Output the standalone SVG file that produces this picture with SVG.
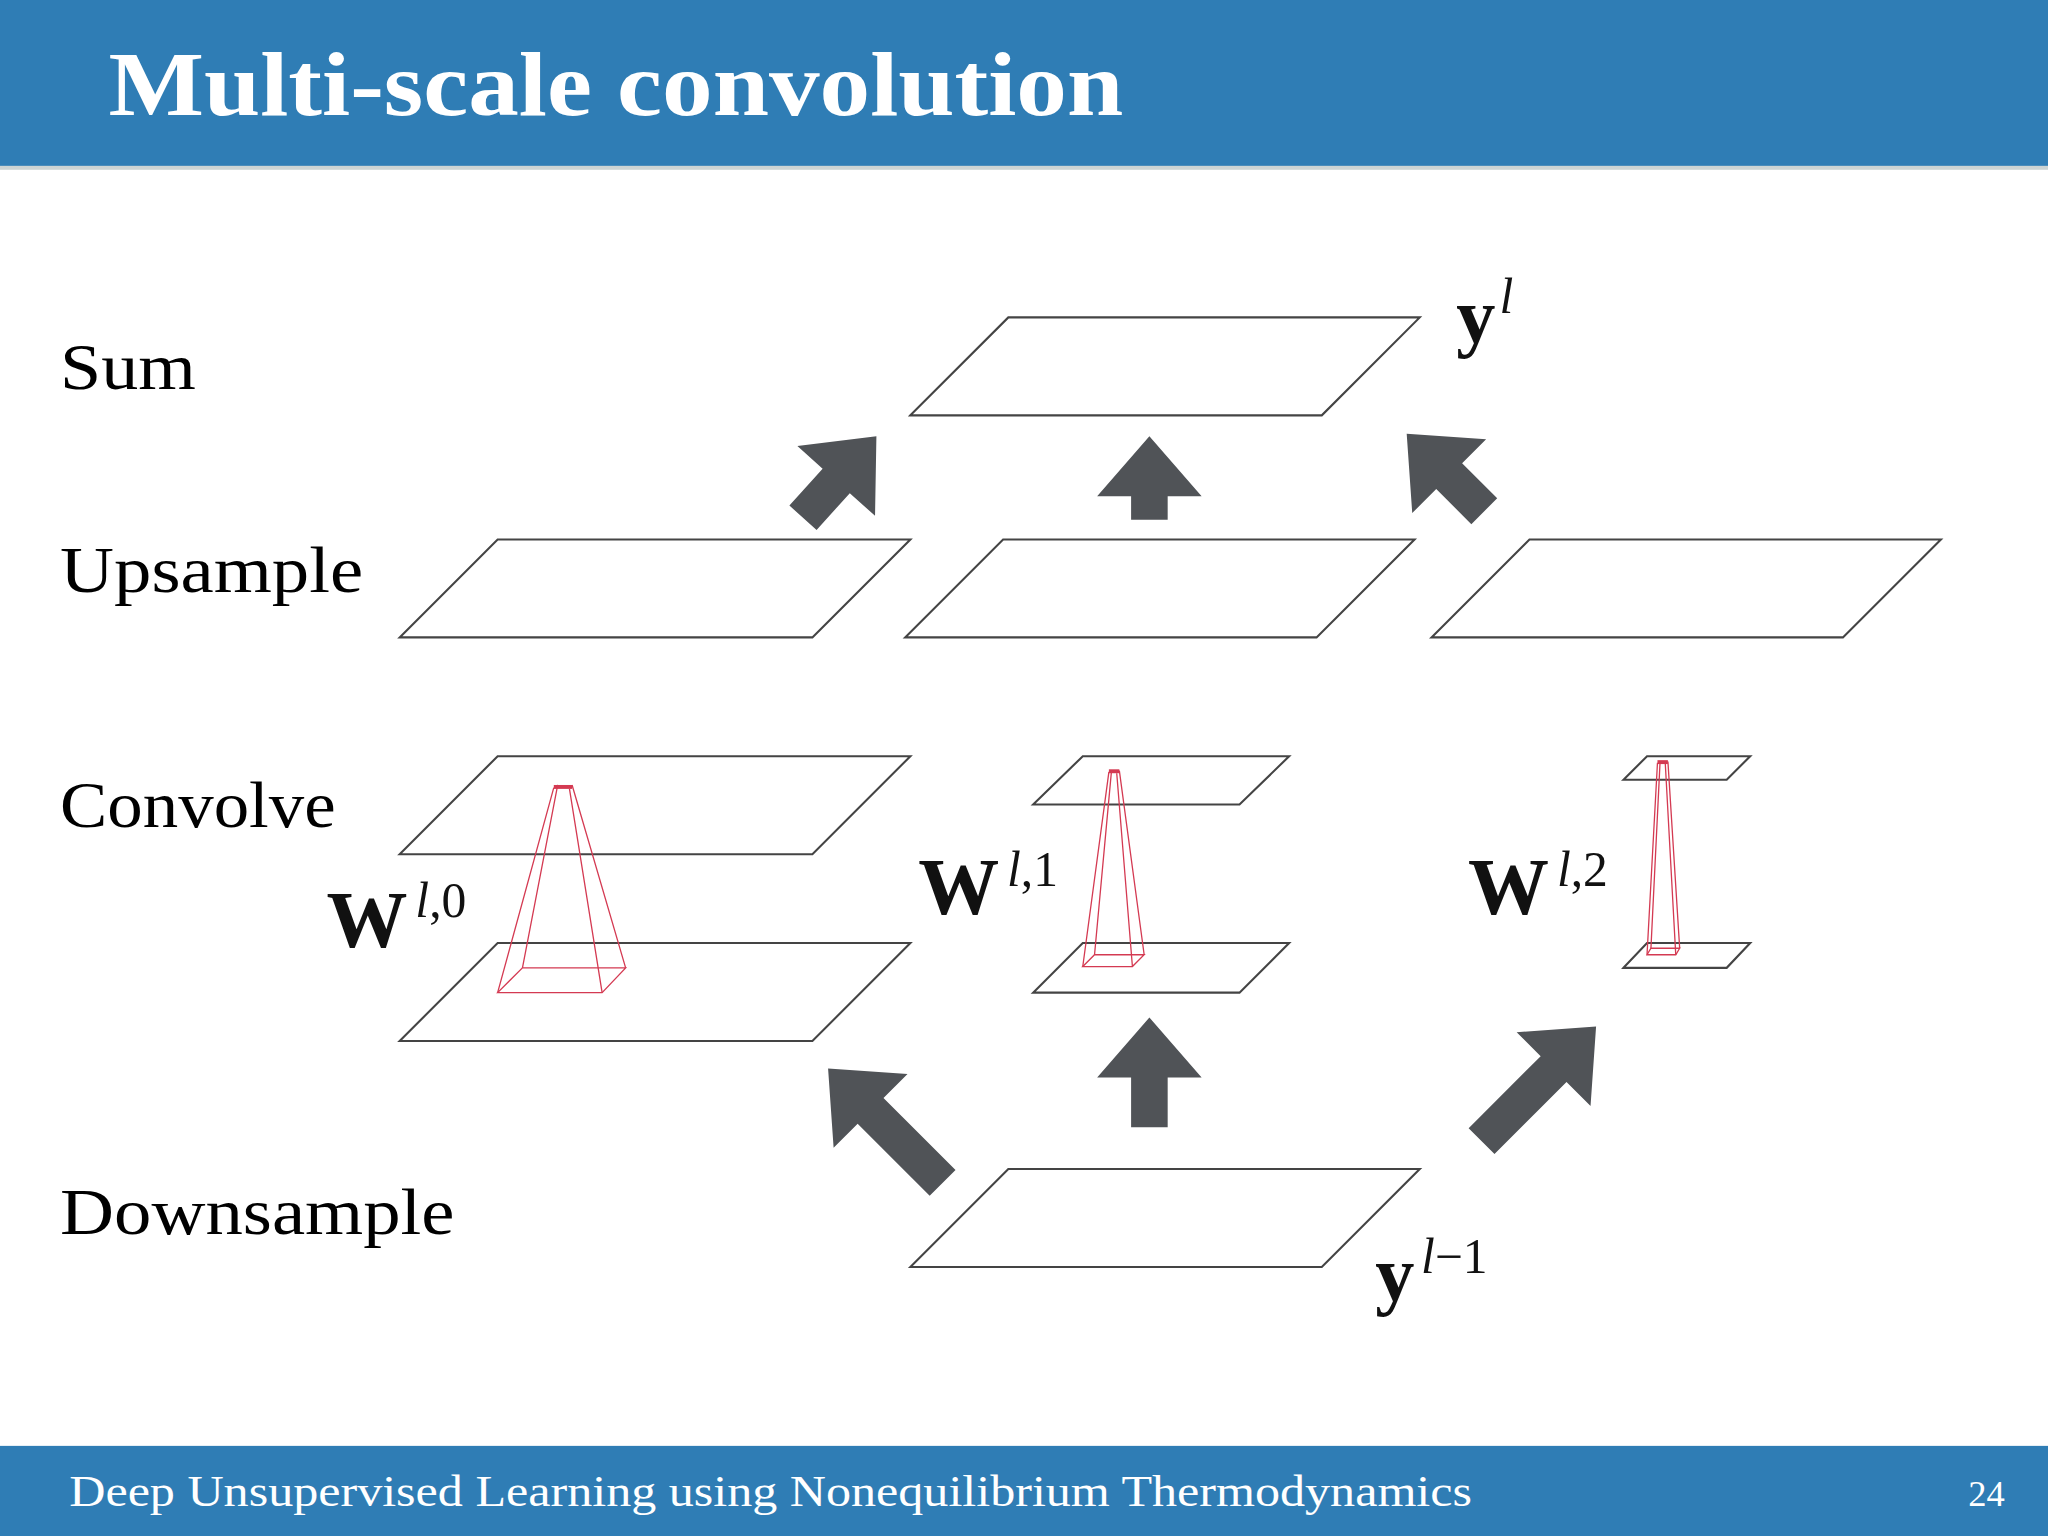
<svg xmlns="http://www.w3.org/2000/svg" width="2048" height="1536" viewBox="0 0 2048 1536">
<style>
.pl{fill:none;stroke:#444;stroke-width:1.6}
.py{fill:none;stroke:#d43a52;stroke-width:1}
.ar{fill:#505357}
.lab{font-family:"Liberation Serif",serif;font-size:50px;fill:#000}
.m{font-family:"Liberation Serif",serif;fill:#111}
</style>
<defs>
<path id="arr" d="M0,0 L40,46 L14,46 L14,84 L-14,84 L-14,46 L-40,46 Z"/>
<path id="arrL" d="M0,0 L40,46 L14,46 L14,124 L-14,124 L-14,46 L-40,46 Z"/>
</defs>
<rect width="2048" height="1536" fill="#fff"/>
<g transform="scale(1.306122)">
<g id="header"><rect x="0" y="0" width="1568" height="127" fill="#2f7db5"/><rect x="0" y="127" width="1568" height="3" fill="#9aa" opacity="0.5"/>
<text x="83" y="88" font-family="Liberation Serif,serif" font-size="70" font-weight="bold" fill="#fff" textLength="777" lengthAdjust="spacingAndGlyphs">Multi-scale convolution</text></g>
<g id="footer"><rect x="0" y="1107" width="1568" height="69" fill="#2f7db5"/>
<text x="53" y="1153" font-family="Liberation Serif,serif" font-size="34" fill="#fff" textLength="1074" lengthAdjust="spacingAndGlyphs">Deep Unsupervised Learning using Nonequilibrium Thermodynamics</text>
<text x="1507" y="1153" font-family="Liberation Serif,serif" font-size="28" fill="#fff">24</text></g>
<g id="labels">
<text class="lab" x="46" y="298" textLength="104" lengthAdjust="spacingAndGlyphs">Sum</text>
<text class="lab" x="46" y="453" textLength="232" lengthAdjust="spacingAndGlyphs">Upsample</text>
<text class="lab" x="46" y="633" textLength="211" lengthAdjust="spacingAndGlyphs">Convolve</text>
<text class="lab" x="46" y="945" textLength="302" lengthAdjust="spacingAndGlyphs">Downsample</text>
</g>
<g id="planes">
<polygon id="yl" class="pl" points="697,318 772,243 1087,243 1012,318"/>
<polygon id="up0" class="pl" points="306,488 381,413 697,413 622,488"/>
<polygon id="up1" class="pl" points="693,488 768,413 1083,413 1008,488"/>
<polygon id="up2" class="pl" points="1096,488 1171,413 1486,413 1411,488"/>
<polygon id="c0t" class="pl" points="306,654 381,579 697,579 622,654"/>
<polygon id="c0b" class="pl" points="306,797 381,722 697,722 622,797"/>
<polygon id="c1t" class="pl" points="791,616 829,579 987,579 949,616"/>
<polygon id="c1b" class="pl" points="791,760 829,722 987,722 949,760"/>
<polygon id="c2t" class="pl" points="1243,597 1261,579 1340,579 1322,597"/>
<polygon id="c2b" class="pl" points="1243,741 1261,722 1340,722 1322,741"/>
<polygon id="ylm1" class="pl" points="697,970 772,895 1087,895 1012,970"/>
</g>
<g id="kernels">
<g id="k0"><rect x="424" y="601" width="14" height="3" fill="#d43a52"/>
<polygon class="py" points="381,760 400,741 479,741 461,760"/>
<path class="py" d="M424,603 L381,760 M427,601 L400,741 M438,601 L479,741 M436,604 L461,760"/></g>
<g id="k1"><rect x="849" y="589" width="8" height="3" fill="#d43a52"/>
<polygon class="py" points="829,740 838,731 876,731 867,740"/>
<path class="py" d="M849,591 L829,740 M851,590 L838,731 M857,590 L876,731 M855,592 L867,740"/></g>
<g id="k2"><rect x="1269" y="582" width="8" height="3" fill="#d43a52"/>
<polygon class="py" points="1261,731 1264,726 1286,726 1283,731"/>
<path class="py" d="M1269,584 L1261,731 M1271,583 L1264,726 M1277,583 L1286,726 M1275,585 L1283,731"/></g>
</g>
<g id="connectors">
<use href="#arr" class="ar" transform="translate(671,334) rotate(42)"/>
<path class="ar" d="M880,334 L920,380 L894,380 L894,398 L866,398 L866,380 L840,380 Z"/>
<use href="#arr" class="ar" transform="translate(1077,332) rotate(-45)"/>
<use href="#arr" class="ar" transform="translate(880,779)"/>
<use href="#arrL" class="ar" transform="translate(634,818) rotate(-45)"/>
<use href="#arrL" class="ar" transform="translate(1222,786) rotate(45)"/>
</g>
<g id="math">
<text class="m" x="250" y="725" font-size="62" font-weight="bold">W</text>
<text class="m" x="318" y="702" font-size="38"><tspan font-style="italic">l</tspan>,0</text>
<text class="m" x="703" y="700" font-size="62" font-weight="bold">W</text>
<text class="m" x="771" y="678" font-size="38"><tspan font-style="italic">l</tspan>,1</text>
<text class="m" x="1124" y="700" font-size="62" font-weight="bold">W</text>
<text class="m" x="1192" y="678" font-size="38"><tspan font-style="italic">l</tspan>,2</text>
<text class="m" x="1115" y="262" font-size="60" font-weight="bold">y</text>
<text class="m" x="1148" y="240" font-size="38" font-style="italic">l</text>
<text class="m" x="1053" y="995" font-size="60" font-weight="bold">y</text>
<text class="m" x="1088" y="975" font-size="38"><tspan font-style="italic">l</tspan>−1</text>
</g>
</g>
</svg>
